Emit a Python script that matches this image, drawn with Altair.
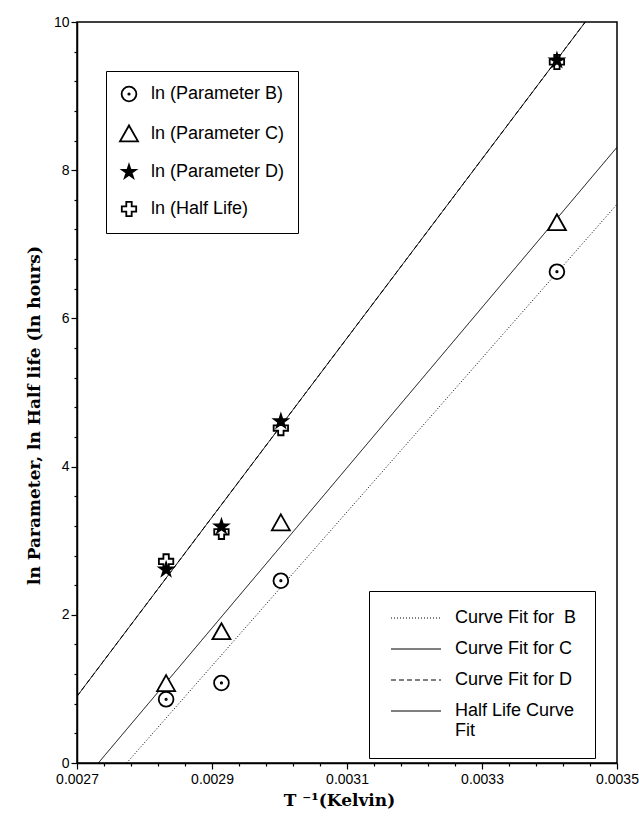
import altair as alt
import pandas as pd

# ---- data ----
inv_T = [0.002832, 0.002914, 0.003002, 0.003411]
ln_B = [0.86, 1.08, 2.46, 6.63]
ln_C = [1.07, 1.77, 3.24, 7.29]
ln_D = [2.61, 3.19, 4.61, 9.48]
ln_half = [2.72, 3.12, 4.52, 9.46]

point_labels = ["ln (Parameter B)", "ln (Parameter C)", "ln (Parameter D)", "ln (Half Life)"]

fit_labels = ["Curve Fit for\u00a0 B", "Curve Fit for C", "Curve Fit for D", "Half Life Curve Fit"]
fit_x_start = [0.0027736, 0.0027316, 0.0027, 0.0027]
fit_y_start = [0.0, 0.0, 0.90, 0.90]
fit_x_end = [0.0035, 0.0035, 0.003453, 0.003453]
fit_y_end = [7.54, 8.31, 10.0, 10.0]

# ---- tables ----
series_values = [
    (point_labels[0], ln_B),
    (point_labels[1], ln_C),
    (point_labels[3], ln_half),
    (point_labels[2], ln_D),
]
pt_rows = []
for name, vals in series_values:
    for xv, yv in zip(inv_T, vals):
        pt_rows.append({"x": xv, "y": yv, "series": name})
pt_df = pd.DataFrame(pt_rows)

fit_rows = []
for name, x0, y0, x1, y1 in zip(fit_labels, fit_x_start, fit_y_start, fit_x_end, fit_y_end):
    fit_rows.append({"x": x0, "y": y0, "fit": name})
    fit_rows.append({"x": x1, "y": y1, "fit": name})
fit_df = pd.DataFrame(fit_rows)

# ---- styles ----
x_minor = [round(0.0027 + i * 0.00004, 5) for i in range(21)]
y_minor = [round(i * 0.4, 1) for i in range(26)]
x_major_test = "abs(round(datum.value*100000) - 270) % 20 == 0"
y_major_test = "round(datum.value*10) % 20 == 0"

circ_dot = ("M-0.82,0A0.82,0.82,0,1,0,0.82,0A0.82,0.82,0,1,0,-0.82,0Z"
            "M-0.08,0A0.08,0.08,0,1,0,0.08,0A0.08,0.08,0,1,0,-0.08,0Z")
tri = "M0,-0.95L1,0.82L-1,0.82Z"
star = ("M0,-0.78L0.175,-0.241L0.742,-0.241L0.283,0.092L0.459,0.631L0,0.298"
        "L-0.459,0.631L-0.283,0.092L-0.742,-0.241L-0.175,-0.241Z")
plus = ("M-0.8,-0.3L-0.3,-0.3L-0.3,-0.8L0.3,-0.8L0.3,-0.3L0.8,-0.3L0.8,0.3"
        "L0.3,0.3L0.3,0.8L-0.3,0.8L-0.3,0.3L-0.8,0.3Z")

x_scale = alt.Scale(domain=[0.0027, 0.0035], nice=False, zero=False)
y_scale = alt.Scale(domain=[0, 10], nice=False)

x_axis = alt.Axis(
    values=x_minor,
    labelExpr=f"{x_major_test} ? format(datum.value, '.4f') : ''",
    tickSize={"condition": {"test": x_major_test, "value": 6}, "value": 3},
    labelFlush=False, labelOverlap=False, grid=False,
    labelFont="Liberation Sans", labelFontSize=14, labelPadding=3,
    title="T \u207b\u00b9(Kelvin)", titleFont="DejaVu Serif", titleFontWeight="bold",
    titleFontSize=17, titlePadding=6, titleX=262,
)
y_axis = alt.Axis(
    values=y_minor,
    labelExpr=f"{y_major_test} ? format(datum.value, 'd') : ''",
    tickSize={"condition": {"test": y_major_test, "value": 6}, "value": 3},
    labelFlush=False, labelOverlap=False, grid=False,
    labelFont="Liberation Sans", labelFontSize=14, labelPadding=2,
    title="ln Parameter, ln Half life (ln hours)", titleFont="DejaVu Serif",
    titleFontWeight="bold", titleFontSize=17, titlePadding=10, titleY=393,
)

X = alt.X("x:Q", scale=x_scale, axis=x_axis)
Y = alt.Y("y:Q", scale=y_scale, axis=y_axis)

leg_lines = alt.Legend(
    title=None, orient="none", legendX=292, legendY=569,
    strokeColor="black", fillColor="white", padding=18,
    labelFont="Liberation Sans", labelFontSize=18, labelColor="black",
    symbolType="M-1,0H9", symbolSize=100, symbolStrokeColor="black",
    rowPadding=13, labelOffset=50,
    labelExpr=("datum.label == 'Half Life Curve Fit' ? "
               "['Half Life Curve', 'Fit'] : datum.label"),
)
leg_pts = alt.Legend(
    title=None, orient="none", legendX=29, legendY=49,
    strokeColor="black", fillColor="white", padding=13,
    labelFont="Liberation Sans", labelFontSize=18, labelColor="black",
    symbolSize=324, symbolStrokeColor="black", symbolStrokeWidth=1.8,
    rowPadding=16, labelOffset=12,
)

lines = alt.Chart(fit_df).mark_line(color="black", clip=True).encode(
    x=X, y=Y,
    strokeDash=alt.StrokeDash(
        "fit:N",
        scale=alt.Scale(domain=fit_labels, range=[[1, 2], [1, 0], [5, 3], [1, 0]]),
        legend=leg_lines,
    ),
    strokeWidth=alt.StrokeWidth(
        "fit:N",
        scale=alt.Scale(domain=fit_labels, range=[1, 1, 1, 2.5]),
        legend=leg_lines,
    ),
)

points = alt.Chart(pt_df).mark_point(
    filled=True, strokeWidth=1.8, opacity=1, size=324
).encode(
    x=X, y=Y,
    shape=alt.Shape(
        "series:N",
        scale=alt.Scale(domain=point_labels, range=[circ_dot, tri, star, plus]),
        legend=leg_pts,
    ),
    fill=alt.Fill(
        "series:N",
        scale=alt.Scale(domain=point_labels, range=["white", "white", "black", "white"]),
        legend=leg_pts,
    ),
    stroke=alt.Stroke(
        "series:N",
        scale=alt.Scale(domain=point_labels, range=["black", "black", "black", "black"]),
        legend=leg_pts,
    ),
)

chart = alt.layer(lines, points).properties(
    width=540, height=741,
    autosize=alt.AutoSizeParams(type="none"),
    padding={"left": 77, "top": 22, "right": 22, "bottom": 59},
    background="white",
).configure_view(
    stroke="black", strokeWidth=1.5
).configure_axis(
    domainColor="black", domainWidth=1.5, tickColor="black", tickWidth=1.2,
    labelColor="black", titleColor="black",
)

chart.save("out.html", embed_options={"renderer": "svg", "actions": False})
